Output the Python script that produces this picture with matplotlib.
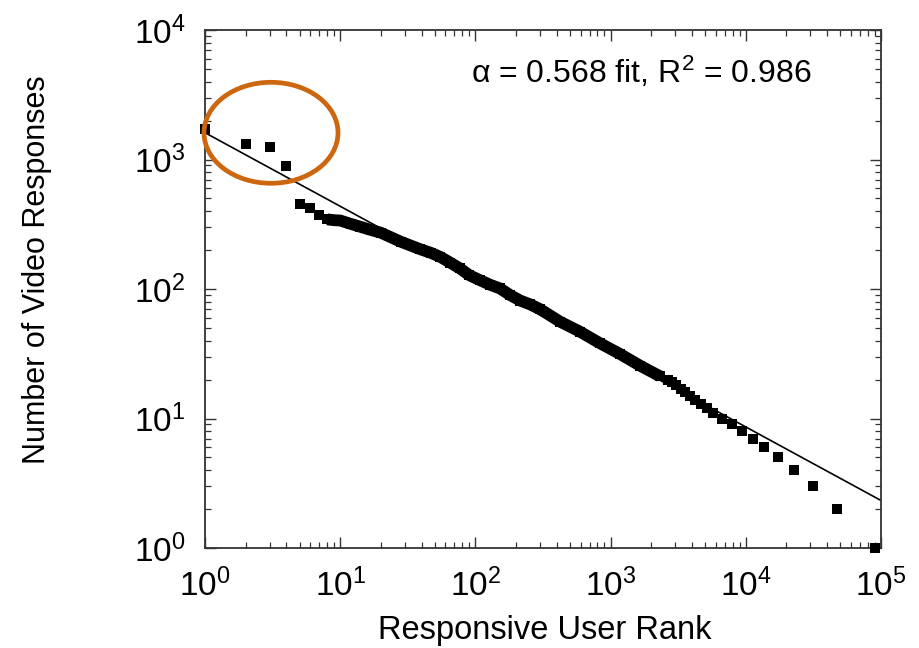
import matplotlib
matplotlib.use("Agg")
import matplotlib.pyplot as plt
from matplotlib.patches import Ellipse
from matplotlib.ticker import LogLocator
import numpy as np

plt.rcParams['font.family'] = ['Liberation Sans', 'DejaVu Sans']
plt.rcParams['mathtext.fontset'] = 'custom'
plt.rcParams['mathtext.rm'] = 'Liberation Sans'
plt.rcParams['mathtext.it'] = 'Liberation Sans:italic'
plt.rcParams['mathtext.bf'] = 'Liberation Sans:bold'

# ---- data ----
head_ranks = [1, 2, 3, 4, 5, 6, 7]
head_values = [1720, 1320, 1250, 890, 450, 420, 375]

body_ranks = [8, 9, 10, 12, 14, 17, 20, 28, 39, 47, 55, 65, 77, 90, 108, 128,
              152, 180, 214, 255, 300, 422, 594, 835, 1174, 1650, 2318]
body_values = [345, 340, 338, 318, 303, 285, 272, 232, 203, 190, 177, 160, 144,
               128, 117, 108, 101, 90, 81.5, 76, 70, 56, 46.8, 38.1, 31.5, 25.6, 21.2]

tail_ranks = [2650, 2850, 3050, 3300, 3550, 3850, 4200, 4650, 5150, 5750, 6640,
              7950, 9330, 11350, 13700, 17300, 22600, 31400, 47500, 90200]
tail_values = [20, 19, 18, 17, 16, 15, 14, 13, 12, 11, 10,
               9, 8, 7, 6, 5, 4, 3, 2, 1]

fit_alpha = 0.568
fit_coef = 1610
fit_range = [1, 1e5]
fit_label = r"α = 0.568 fit, R$^2$ = 0.986"

xlabel = "Responsive User Rank"
ylabel = "Number of Video Responses"

# ---- figure ----
W, H = 919, 648
fig = plt.figure(figsize=(W / 100, H / 100), dpi=100)
ax = fig.add_axes([205 / W, 1 - 548 / H, (881 - 205) / W, (548 - 30) / H])
ax.set_xscale('log')
ax.set_yscale('log')
ax.set_xlim(1, 1e5)
ax.set_ylim(1, 1e4)

fx = np.array(fit_range, dtype=float)
ax.plot(fx, fit_coef * fx ** (-fit_alpha), color='black', lw=1.2, zorder=2)

ms = 6.5
ax.plot(head_ranks, head_values, 's', color='black', ms=ms, mew=0, clip_on=False, zorder=3)
ax.plot(body_ranks, body_values, '-', color='black', lw=8.5, solid_capstyle='butt', zorder=3)
ax.plot(body_ranks, body_values, 's', color='black', ms=ms, mew=0, zorder=3)
ax.plot(tail_ranks, tail_values, 's', color='black', ms=ms, mew=0, clip_on=False, zorder=3)

ax.text(0.646, 0.898, fit_label, transform=ax.transAxes, ha='center', va='baseline',
        fontsize=23)

ell = Ellipse((271 / W, 1 - 132.8 / H), 134 / W, 101 / H, transform=fig.transFigure,
              fill=False, edgecolor='#CC660F', lw=3.4, zorder=5)
fig.patches.append(ell)

ax.set_xlabel(xlabel, fontsize=23.5)
ax.set_ylabel(ylabel, fontsize=22)
ax.xaxis.set_label_coords(0.503, -0.13)
ax.yaxis.set_label_coords(-0.226, 0.537)

ax.xaxis.set_major_locator(LogLocator(base=10, numticks=10))
ax.yaxis.set_major_locator(LogLocator(base=10, numticks=10))
ax.xaxis.set_minor_locator(LogLocator(base=10, subs=np.arange(2, 10), numticks=20))
ax.yaxis.set_minor_locator(LogLocator(base=10, subs=np.arange(2, 10), numticks=20))
ax.tick_params(which='both', direction='in', top=True, right=True, colors='#333333',
               labelcolor='black')
ax.tick_params(which='major', length=8, width=1.0, labelsize=24)
ax.tick_params(which='minor', length=4, width=0.9)
ax.tick_params(axis='x', which='major', pad=15)
ax.tick_params(axis='y', which='major', pad=14)
for s in ax.spines.values():
    s.set_linewidth(1.3)
    s.set_color('#333333')

fig.savefig('out.png', dpi=100)
